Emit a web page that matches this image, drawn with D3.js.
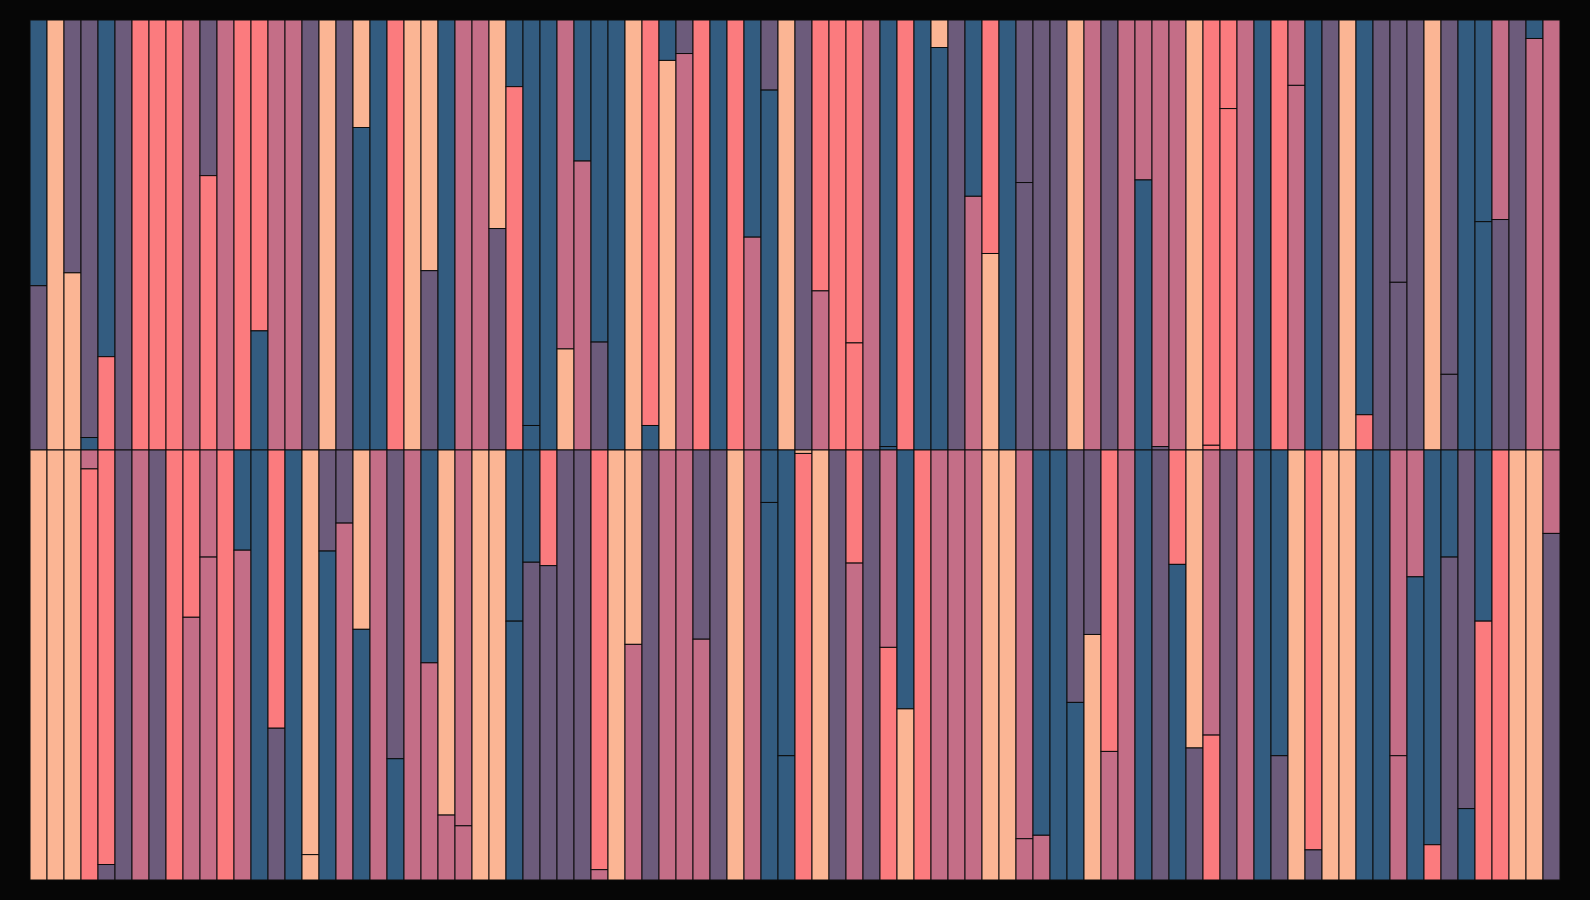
<!DOCTYPE html>
<html>
<head>
<meta charset="utf-8">
<script src="https://cdn.jsdelivr.net/npm/d3@7"></script>
<style>
  html, body { margin: 0; padding: 0; background: #060606; }
  #graphicContainer { width: 1590px; height: 900px; }
</style>
</head>
<body>
<div id="graphicContainer"></div>
<script>

// colour codes: B blue, P purple, K pink, S salmon, Y peach
var colourKeys = ["B", "P", "K", "S", "Y"]
var colourValues = ["#335c80", "#6c5b7b", "#c46e87", "#fb7b7e", "#fbb594"]

var columns = d3.range(90)
var rows = ["top", "bottom"]

// upper half of the picture
var topUpper = [
  "B","Y","P","P","B","P","S","S","S","K",
  "P","K","S","S","K","K","P","Y","P","Y",
  "B","S","Y","Y","B","K","K","Y","B","B",
  "B","K","B","B","B","Y","S","B","P","S",
  "B","S","B","P","Y","P","S","S","S","K",
  "B","S","B","Y","P","B","S","B","P","P",
  "P","Y","K","P","K","K","K","K","Y","S",
  "S","K","B","S","K","B","P","Y","B","P",
  "P","P","Y","P","B","B","K","P","B","K"]

var topLower = [
  "P","Y","Y","B","S","P","S","S","S","K",
  "S","K","S","B","K","K","P","Y","P","B",
  "B","S","Y","P","B","K","K","P","S","B",
  "B","Y","K","P","B","Y","B","Y","K","S",
  "B","S","K","B","Y","P","K","S","S","K",
  "B","S","B","B","P","K","Y","B","P","P",
  "P","Y","K","P","K","B","P","K","Y","S",
  "S","K","B","S","K","B","P","Y","S","P",
  "P","P","Y","P","B","B","P","P","K","K"]

var topSplit = [
  0.618, 1, 0.588, 0.971, 0.783, 1, 1, 1, 1, 1,
  0.362, 1, 1, 0.723, 1, 1, 1, 1, 1, 0.25,
  1, 1, 1, 0.583, 1, 1, 1, 0.485, 0.155, 0.943,
  1, 0.765, 0.328, 0.749, 1, 1, 0.943, 0.094, 0.078, 1,
  1, 1, 0.505, 0.163, 1, 1, 0.63, 1, 0.751, 1,
  0.992, 1, 1, 0.064, 1, 0.41, 0.543, 1, 0.378, 1,
  1, 1, 1, 1, 1, 0.372, 0.992, 1, 1, 0.989,
  0.206, 1, 1, 1, 0.152, 1, 1, 1, 0.918, 1,
  0.61, 1, 1, 0.824, 1, 0.469, 0.464, 1, 0.043, 1]

// lower half of the picture
var bottomUpper = [
  "Y","Y","Y","K","S","P","K","P","S","S",
  "K","S","B","B","S","B","Y","P","P","Y",
  "K","P","K","B","Y","K","Y","Y","B","B",
  "S","P","P","S","Y","Y","P","K","K","P",
  "P","Y","K","B","B","Y","Y","P","S","P",
  "K","B","S","K","K","K","Y","Y","K","B",
  "B","P","P","S","K","B","P","S","Y","K",
  "P","K","B","B","Y","S","Y","Y","B","B",
  "K","K","B","B","P","B","S","Y","Y","K"]

var bottomLower = [
  "Y","Y","Y","S","P","P","K","P","S","K",
  "K","S","K","B","P","B","Y","B","K","B",
  "K","B","K","K","K","K","Y","Y","B","P",
  "P","P","P","K","Y","K","P","K","K","K",
  "P","Y","K","B","B","S","Y","P","K","P",
  "S","Y","S","K","K","K","Y","Y","K","K",
  "B","B","Y","K","K","B","P","B","P","S",
  "P","K","B","P","Y","P","Y","Y","B","B",
  "K","B","S","P","B","S","S","Y","Y","P"]

var bottomSplit = [
  1, 1, 1, 0.044, 0.964, 1, 1, 1, 1, 0.389,
  0.249, 1, 0.233, 1, 0.647, 1, 0.941, 0.235, 0.17, 0.417,
  1, 0.718, 1, 0.495, 0.849, 0.874, 1, 1, 0.398, 0.261,
  0.269, 1, 1, 0.976, 1, 0.452, 1, 1, 1, 0.44,
  1, 1, 1, 0.122, 0.711, 0.008, 1, 1, 0.263, 1,
  0.459, 0.602, 1, 1, 1, 1, 1, 1, 0.904, 0.896,
  1, 0.587, 0.429, 0.701, 1, 1, 1, 0.266, 0.693, 0.663,
  1, 1, 1, 0.711, 1, 0.93, 1, 1, 1, 1,
  0.711, 0.295, 0.918, 0.249, 0.834, 0.398, 1, 1, 1, 0.194]


function init() {

	var width = 1590
	var height = 900
	var margin = {top: 20, right: 30, bottom: 20, left: 30}

	var context = d3.select("#graphicContainer")
	context.select("svg").remove()

	var svg = context.append("svg")
		.attr("width", width)
		.attr("height", height)
		.style("display", "block")

	svg.append("rect")
		.attr("width", width)
		.attr("height", height)
		.attr("fill", "#060606")

	var x = d3.scaleBand()
		.domain(columns)
		.range([margin.left, width - margin.right])

	var y = d3.scaleBand()
		.domain(rows)
		.range([margin.top, height - margin.bottom])

	// position inside one half, 0 = top of the half, 1 = bottom
	var inner = d3.scaleLinear()
		.domain([0, 1])
		.range([0, y.bandwidth()])

	var colour = d3.scaleOrdinal()
		.domain(colourKeys)
		.range(colourValues)

	var halves = {
		top: {upper: topUpper, lower: topLower, split: topSplit},
		bottom: {upper: bottomUpper, lower: bottomLower, split: bottomSplit}
	}

	var pieces = []

	rows.forEach(function (row) {
		var h = halves[row]
		columns.forEach(function (i) {
			pieces.push({col: i, row: row, from: 0, to: h.split[i], key: h.upper[i]})
			if (h.split[i] < 1) {
				pieces.push({col: i, row: row, from: h.split[i], to: 1, key: h.lower[i]})
			}
		})
	})

	var features = svg.append("g")

	features.selectAll("rect.piece")
		.data(pieces)
		.enter()
		.append("rect")
		.attr("class", "piece")
		.attr("x", function(d) { return x(d.col) })
		.attr("width", x.bandwidth())
		.attr("y", function(d) { return y(d.row) + inner(d.from) })
		.attr("height", function(d) { return inner(d.to) - inner(d.from) })
		.attr("fill", function(d) { return colour(d.key) })
		.attr("stroke", "#0c0c0c")
		.attr("stroke-width", 1)

}

init()

</script>
</body>
</html>
